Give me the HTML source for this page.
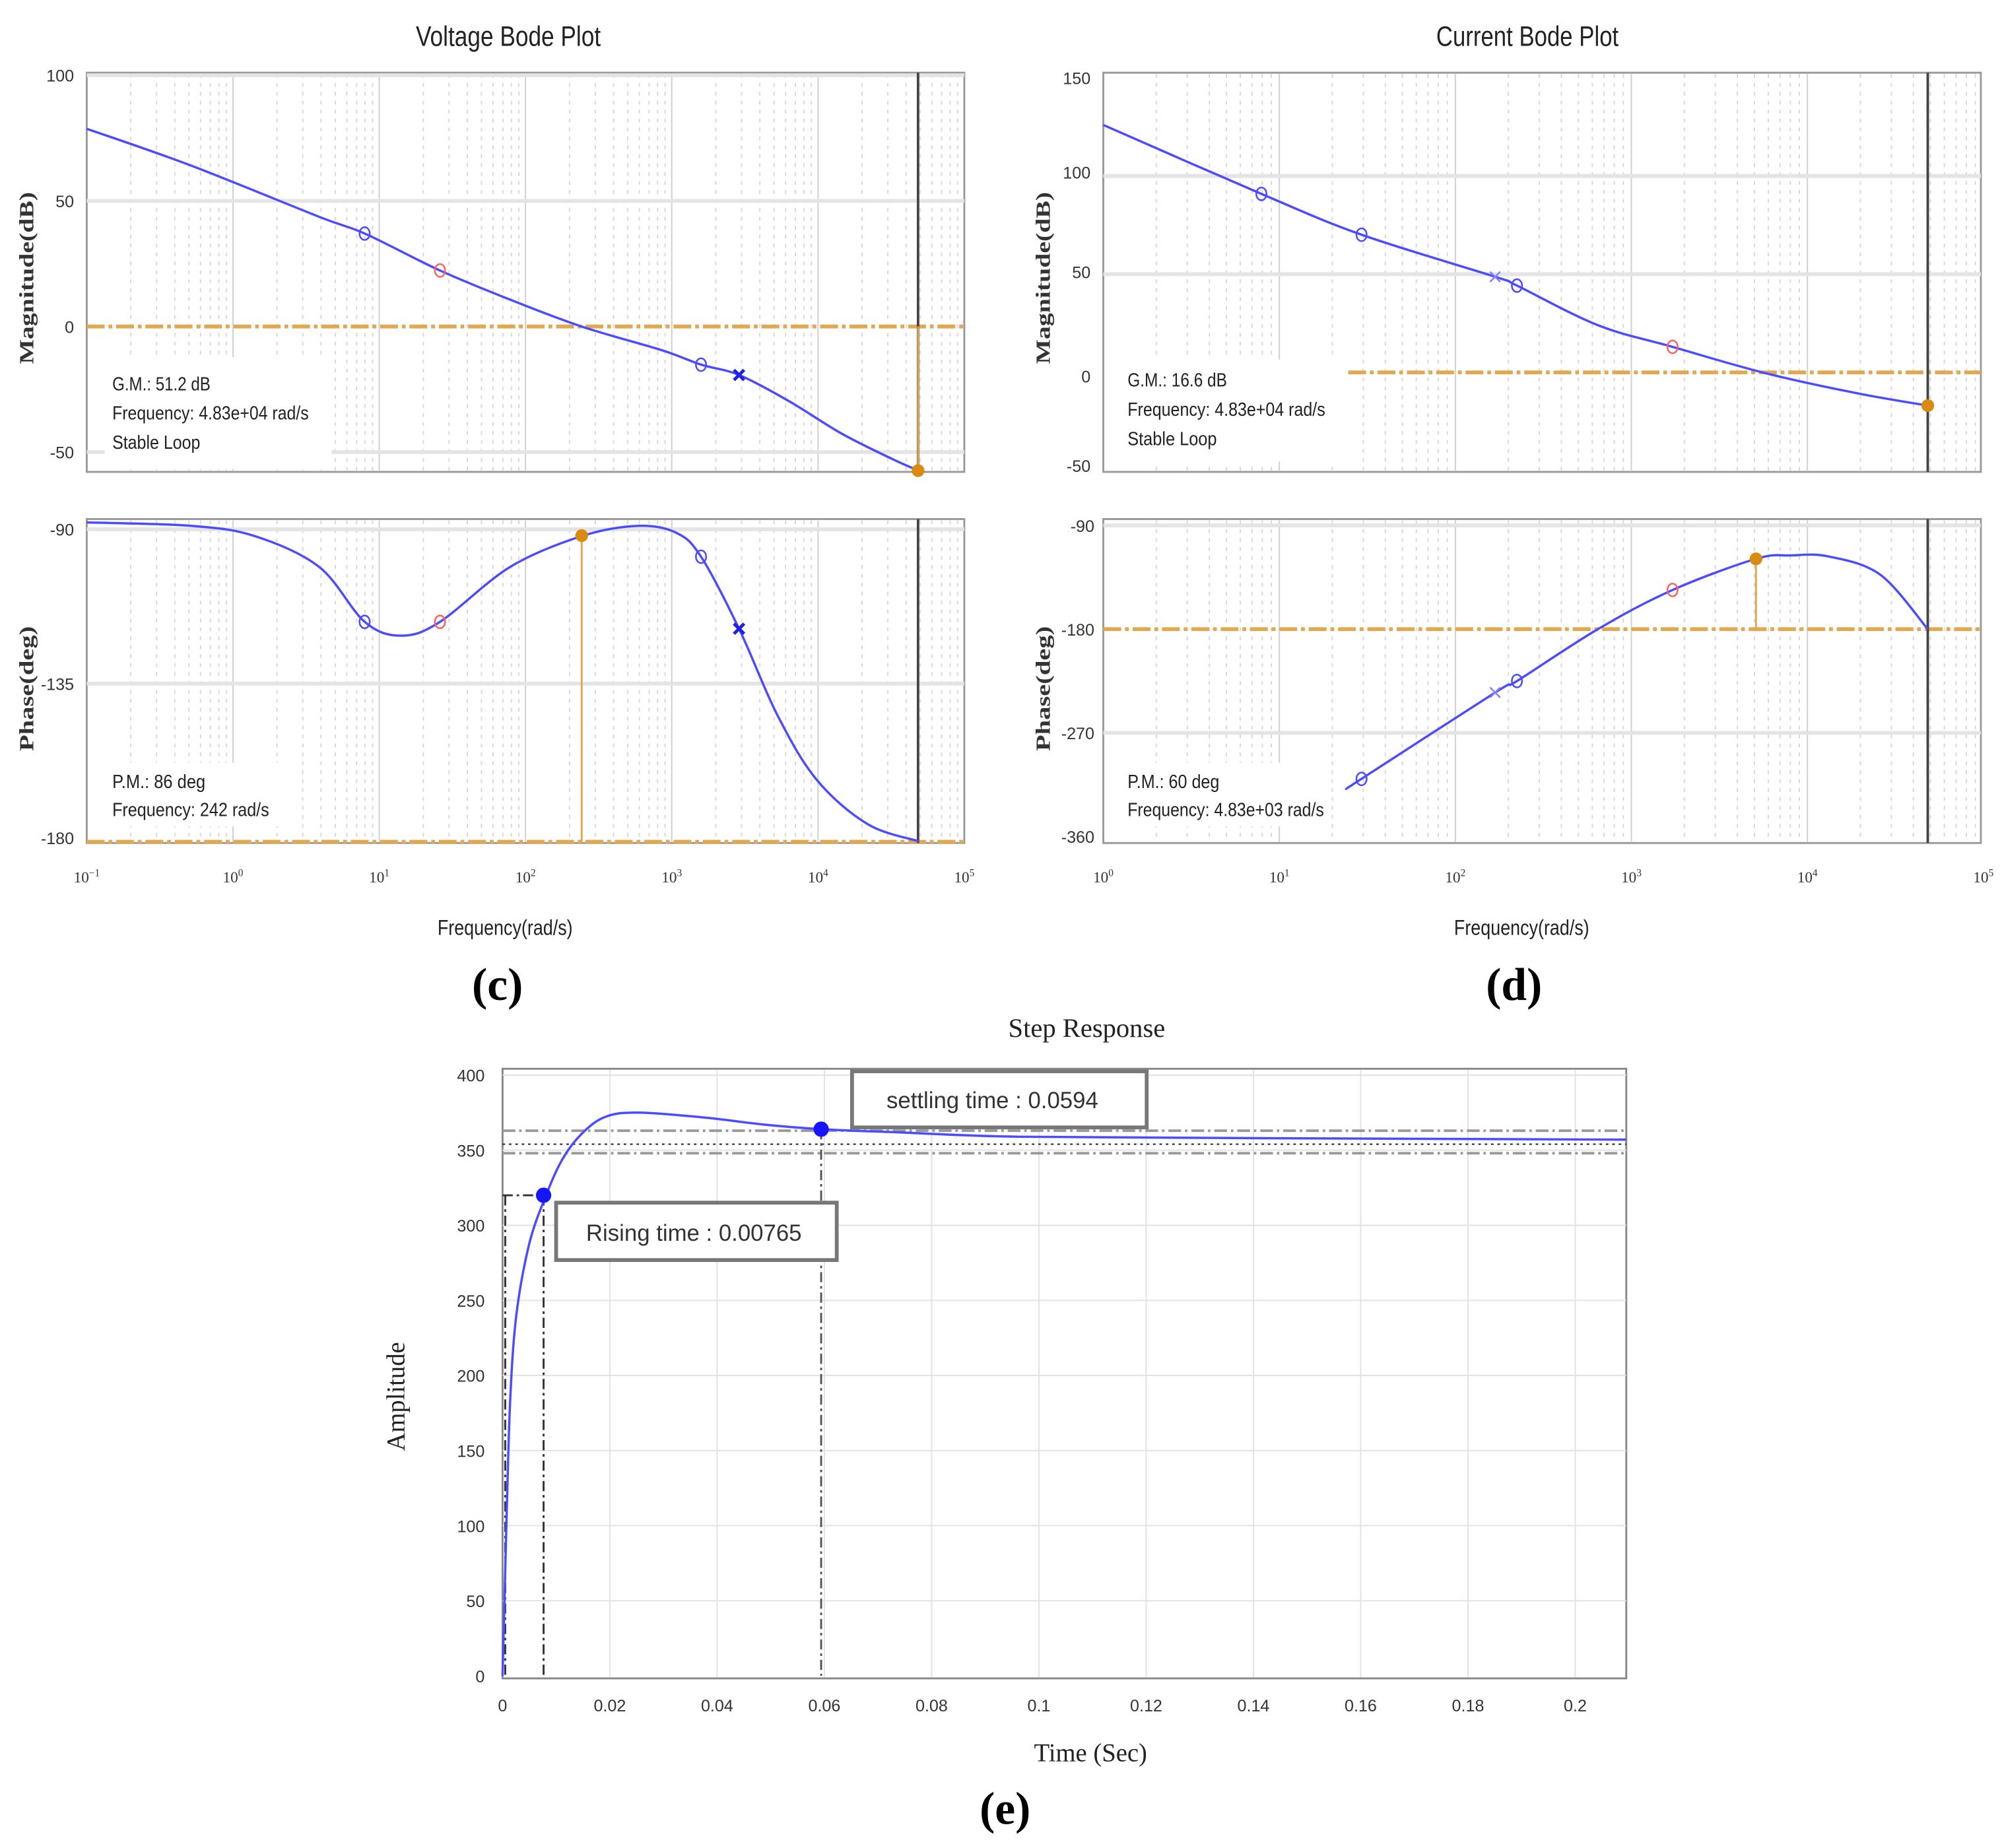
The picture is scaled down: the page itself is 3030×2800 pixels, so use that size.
<!DOCTYPE html>
<html><head><meta charset="utf-8">
<style>
html,body{margin:0;padding:0;background:#fff;}
svg{display:block;}
.nar{font-family:"Liberation Sans Narrow","Liberation Sans",sans-serif;}
.ser{font-family:"Liberation Serif",serif;}
.san{font-family:"Liberation Sans",sans-serif;}
</style></head>
<body>
<svg id="fig" width="3030" height="2800" viewBox="0 0 1568 1449" xmlns="http://www.w3.org/2000/svg"></svg>
<script>
// ---- Voltage Bode data (log10 freq, value) ----
const vMagLogF = [-1,-0.285,0.587,0.90,1.415,1.894,2.383,2.94,3.2,3.46,3.81,4.16,4.51,4.69];
const vMagDb   = [78.7,64,43.7,37,22.3,10.7,0,-9.6,-15.2,-19.3,-30,-42.6,-52.8,-57.4];
const vPhLogF  = [-1,-0.285,0.15,0.59,0.90,1.15,1.415,1.894,2.383,2.77,3.03,3.2,3.46,3.72,3.99,4.34,4.69];
const vPhDeg   = [-88,-89,-92,-101,-117,-121,-117,-101,-92,-89,-91,-98,-119,-144,-163,-176,-181];
// ---- Current Bode data ----
const cMagLogF = [0,0.898,1.467,2.226,2.350,2.810,3.234,3.745,4.270,4.684];
const cMagDb   = [126,90.9,70.1,48.7,44.2,24,13,0,-10.4,-16.9];
const cPhLogF  = [1.387,1.467,2.226,2.350,2.810,3.234,3.708,3.905,4.124,4.416,4.684];
const cPhDeg   = [-318,-310,-235,-225,-180,-146,-119,-116,-117,-133,-180];
// ---- Step response ----
const stepT = [0,0.0007,0.0014,0.0026,0.005,0.0081,0.011,0.0145,0.019,0.025,0.037,0.049,0.0594,0.073,0.0965,0.144,0.2095];
const stepY = [0,97,182,241,288,320,343,360,372,375,372,367,364,362,359,358,357];
const stepXTicks = [0,0.02,0.04,0.06,0.08,0.1,0.12,0.14,0.16,0.18,0.2];
const stepYTicks = [0,50,100,150,200,250,300,350,400];

const NS="http://www.w3.org/2000/svg";
const svg=document.getElementById('fig');
function mk(tag,attrs,parent){const e=document.createElementNS(NS,tag);for(const k in attrs)e.setAttribute(k,attrs[k]);(parent||svg).appendChild(e);return e;}
function txt(s,x,y,attrs,parent){const t=mk('text',Object.assign({x:x,y:y},attrs),parent);t.textContent=s;return t;}
function ntxt(s,x,y,len,size,parent,extra){return txt(s,x,y,Object.assign({class:'nar','font-size':size,fill:'#222',textLength:len,lengthAdjust:'spacingAndGlyphs'},extra||{}),parent);}
function smooth(xs,ys,fx,fy){const P=xs.map((v,i)=>[fx(v),fy(ys[i])]);let d='M'+P[0][0]+','+P[0][1];for(let i=0;i<P.length-1;i++){const p0=P[i-1]||P[i],p1=P[i],p2=P[i+1],p3=P[i+2]||p2;const c1=[p1[0]+(p2[0]-p0[0])/6,p1[1]+(p2[1]-p0[1])/6],c2=[p2[0]-(p3[0]-p1[0])/6,p2[1]-(p3[1]-p1[1])/6];d+=` C${c1[0].toFixed(1)},${c1[1].toFixed(1)} ${c2[0].toFixed(1)},${c2[1].toFixed(1)} ${p2[0].toFixed(1)},${p2[1].toFixed(1)}`;}return d;}

function logGrid(g,x0,perDec,d0,d1,yTop,yBot){
  for(let d=d0;d<d1;d++){for(let m=2;m<=9;m++){const x=x0+(d-d0+Math.log10(m))*perDec;mk('line',{x1:x,y1:yTop,x2:x,y2:yBot,stroke:'#d8d8d8','stroke-dasharray':'3,4','stroke-width':1},g);}
    const x=x0+(d-d0)*perDec; if(d>d0) mk('line',{x1:x,y1:yTop,x2:x,y2:yBot,stroke:'#cfcfcf','stroke-width':1},g);}
}
function circ(g,x,y,c){mk('ellipse',{cx:x,cy:y,rx:4,ry:5,fill:'none',stroke:c,'stroke-width':1.3},g);}
function xm(g,x,y,c,w){mk('path',{d:`M${x-4},${y-4}L${x+4},${y+4}M${x+4},${y-4}L${x-4},${y+4}`,stroke:c,'stroke-width':w||2.5},g);}

const ORG='#e0a850', BLUE='#4b4bff';

// ===================== VOLTAGE BODE =====================
(function(){
  const g=mk('g',{});
  const X0=68,X1=756,per=(X1-X0)/6; const fx=l=>X0+(l+1)*per;
  ntxt('Voltage Bode Plot',326,36,145,22,g,{});
  const mY=db=>256-db*98.5/50;
  const gm=mk('g',{},g);
  mk('rect',{x:X0,y:57,width:X1-X0,height:313,fill:'#fff',stroke:'#999','stroke-width':1.5},gm);
  logGrid(gm,X0,per,-1,5,58,369);
  [100,50,-50].forEach(v=>mk('line',{x1:X0,y1:mY(v),x2:X1,y2:mY(v),stroke:'#e4e4e4','stroke-width':3},gm));
  mk('rect',{x:82,y:280,width:178,height:88,fill:'#fff'},gm);
  mk('line',{x1:X0,y1:256,x2:X1,y2:256,stroke:ORG,'stroke-width':3,'stroke-dasharray':'14,3,3,3'},gm);
  mk('line',{x1:fx(4.684),y1:57,x2:fx(4.684),y2:370,stroke:'#444','stroke-width':2},gm);
  mk('line',{x1:fx(4.684),y1:256,x2:fx(4.684),y2:369,stroke:ORG,'stroke-width':1.5},gm);
  [[100,'100'],[50,'50'],[0,'0'],[-50,'-50']].forEach(([v,s])=>txt(s,58,mY(v)+5,{class:'nar','font-size':13,'text-anchor':'end',fill:'#333'},gm));
  txt('Magnitude(dB)',0,0,{class:'ser','font-size':16,'font-weight':'bold','text-anchor':'middle',transform:'translate(26,218) rotate(-90)',fill:'#333',textLength:135,lengthAdjust:'spacingAndGlyphs',},gm);
  const l=mk('path',{d:smooth(vMagLogF,vMagDb,fx,mY),fill:'none',stroke:BLUE,'stroke-width':1.8},gm);
  
  circ(gm,fx(vMagLogF[3]),mY(vMagDb[3]),BLUE);circ(gm,fx(vMagLogF[4]),mY(vMagDb[4]),'#ff6060');circ(gm,fx(vMagLogF[8]),mY(vMagDb[8]),BLUE);xm(gm,fx(vMagLogF[9]),mY(vMagDb[9]),'#2020e0');
  mk('circle',{cx:fx(4.684),cy:369,r:5,fill:'#d98a10'},gm);
  [['G.M.: 51.2 dB',77],['Frequency: 4.83e+04 rad/s',154],['Stable Loop',69]].forEach(([s,w],i)=>ntxt(s,88,306+i*23,w,15,gm));
  const pY=d=>415+(-90-d)*242/90;
  const gp=mk('g',{},g);
  mk('rect',{x:X0,y:407,width:X1-X0,height:254,fill:'#fff',stroke:'#999','stroke-width':1.5},gp);
  logGrid(gp,X0,per,-1,5,408,660);
  [-90,-135].forEach(v=>mk('line',{x1:X0,y1:pY(v),x2:X1,y2:pY(v),stroke:'#e4e4e4','stroke-width':3},gp));
  mk('rect',{x:82,y:598,width:150,height:50,fill:'#fff'},gp);
  mk('line',{x1:X0,y1:660,x2:X1,y2:660,stroke:ORG,'stroke-width':3,'stroke-dasharray':'14,3,3,3'},gp);
  mk('line',{x1:fx(4.684),y1:407,x2:fx(4.684),y2:661,stroke:'#444','stroke-width':2},gp);
  mk('line',{x1:fx(2.384),y1:420,x2:fx(2.384),y2:660,stroke:ORG,'stroke-width':1.5},gp);
  [[-90,'-90'],[-135,'-135'],[-180,'-180']].forEach(([v,s])=>txt(s,58,pY(v)+5,{class:'nar','font-size':13,'text-anchor':'end',fill:'#333'},gp));
  txt('Phase(deg)',0,0,{class:'ser','font-size':16,'font-weight':'bold','text-anchor':'middle',transform:'translate(26,540) rotate(-90)',fill:'#333',textLength:98,lengthAdjust:'spacingAndGlyphs'},gp);
  const pl=mk('path',{d:smooth(vPhLogF,vPhDeg,fx,pY),fill:'none',stroke:BLUE,'stroke-width':1.8},gp);
  
  circ(gp,fx(vPhLogF[4]),pY(vPhDeg[4]),BLUE);circ(gp,fx(vPhLogF[6]),pY(vPhDeg[6]),'#ff6060');circ(gp,fx(vPhLogF[11]),pY(vPhDeg[11]),BLUE);xm(gp,fx(vPhLogF[12]),pY(vPhDeg[12]),'#2020e0');
  mk('circle',{cx:fx(2.384),cy:420,r:5,fill:'#d98a10'},gp);
  [['P.M.: 86 deg',73],['Frequency: 242 rad/s',123]].forEach(([s,w],i)=>ntxt(s,88,618+i*22,w,15,gp));
  for(let d=-1;d<=5;d++){const t=txt('10',fx(d),692,{class:'ser','font-size':12,'text-anchor':'middle',fill:'#333'},gp);const ts=mk('tspan',{dy:-5,'font-size':8},t);ts.textContent=(d<0?'−':'')+Math.abs(d);}
  ntxt('Frequency(rad/s)',343,733,106,17,g,{});
  txt('(c)',390,784,{class:'ser','font-size':36,'font-weight':'bold','text-anchor':'middle',fill:'#000',},g);
})();

// ===================== CURRENT BODE =====================
(function(){
  const g=mk('g',{});
  const X0=865,X1=1553,per=138; const fx=l=>X0+l*per;
  ntxt('Current Bode Plot',1126,36,143,22,g,{});
  const mY=db=>292-db*77/50;
  const gm=mk('g',{},g);
  mk('rect',{x:X0,y:57,width:X1-X0,height:313,fill:'#fff',stroke:'#999','stroke-width':1.5},gm);
  logGrid(gm,X0,per,0,5,58,369);
  [100,50].forEach(v=>mk('line',{x1:X0,y1:mY(v),x2:X1,y2:mY(v),stroke:'#e4e4e4','stroke-width':3},gm));
  mk('rect',{x:878,y:282,width:175,height:80,fill:'#fff'},gm);
  mk('line',{x1:1057,y1:292,x2:X1,y2:292,stroke:ORG,'stroke-width':3,'stroke-dasharray':'14,3,3,3'},gm);
  mk('line',{x1:fx(4.684),y1:57,x2:fx(4.684),y2:370,stroke:'#444','stroke-width':2},gm);
  [[150,'150',61],[100,'100',135],[50,'50',213],[0,'0',295],[-50,'-50',365]].forEach(([v,s,y])=>txt(s,855,y+5,{class:'nar','font-size':13,'text-anchor':'end',fill:'#333'},gm));
  txt('Magnitude(dB)',0,0,{class:'ser','font-size':16,'font-weight':'bold','text-anchor':'middle',transform:'translate(823,218) rotate(-90)',fill:'#333',textLength:135,lengthAdjust:'spacingAndGlyphs'},gm);
  const l=mk('path',{d:smooth(cMagLogF,cMagDb,fx,mY),fill:'none',stroke:BLUE,'stroke-width':1.8},gm);
  
  circ(gm,fx(cMagLogF[1]),mY(cMagDb[1]),BLUE);circ(gm,fx(cMagLogF[2]),mY(cMagDb[2]),BLUE);xm(gm,fx(cMagLogF[3]),mY(cMagDb[3]),'#8080ff',1.3);circ(gm,fx(cMagLogF[4]),mY(cMagDb[4]),BLUE);circ(gm,fx(cMagLogF[6]),mY(cMagDb[6]),'#ff6060');
  mk('circle',{cx:fx(cMagLogF[9]),cy:mY(cMagDb[9]),r:5,fill:'#d98a10'},gm);
  [['G.M.: 16.6 dB',78],['Frequency: 4.83e+04 rad/s',155],['Stable Loop',70]].forEach(([s,w],i)=>ntxt(s,884,303+i*23,w,15,gm));
  const pY=d=>412+(-90-d)*81.3/90;
  const gp=mk('g',{},g);
  mk('rect',{x:X0,y:407,width:X1-X0,height:254,fill:'#fff',stroke:'#999','stroke-width':1.5},gp);
  logGrid(gp,X0,per,0,5,408,660);
  [-90,-270].forEach(v=>mk('line',{x1:X0,y1:pY(v),x2:X1,y2:pY(v),stroke:'#e4e4e4','stroke-width':3},gp));
  mk('rect',{x:878,y:598,width:165,height:50,fill:'#fff'},gp);
  mk('line',{x1:X0,y1:pY(-180),x2:X1,y2:pY(-180),stroke:ORG,'stroke-width':3,'stroke-dasharray':'14,3,3,3'},gp);
  mk('line',{x1:fx(4.684),y1:407,x2:fx(4.684),y2:661,stroke:'#444','stroke-width':2},gp);
  mk('line',{x1:fx(3.708),y1:pY(-119),x2:fx(3.708),y2:pY(-180),stroke:ORG,'stroke-width':1.5},gp);
  [[-90,'-90'],[-180,'-180'],[-270,'-270'],[-360,'-360']].forEach(([v,s])=>txt(s,858,pY(v)+5,{class:'nar','font-size':13,'text-anchor':'end',fill:'#333'},gp));
  txt('Phase(deg)',0,0,{class:'ser','font-size':16,'font-weight':'bold','text-anchor':'middle',transform:'translate(823,540) rotate(-90)',fill:'#333',textLength:98,lengthAdjust:'spacingAndGlyphs'},gp);
  const pl=mk('path',{d:smooth(cPhLogF,cPhDeg,fx,pY),fill:'none',stroke:BLUE,'stroke-width':1.8},gp);
  
  circ(gp,fx(cPhLogF[1]),pY(cPhDeg[1]),BLUE);xm(gp,fx(cPhLogF[2]),pY(cPhDeg[2]),'#8080ff',1.3);circ(gp,fx(cPhLogF[3]),pY(cPhDeg[3]),BLUE);circ(gp,fx(cPhLogF[5]),pY(cPhDeg[5]),'#ff6060');
  mk('circle',{cx:fx(cPhLogF[6]),cy:pY(cPhDeg[6]),r:5,fill:'#d98a10'},gp);
  [['P.M.: 60 deg',72],['Frequency: 4.83e+03 rad/s',154]].forEach(([s,w],i)=>ntxt(s,884,618+i*22,w,15,gp));
  for(let d=0;d<=5;d++){const t=txt('10',fx(d),692,{class:'ser','font-size':12,'text-anchor':'middle',fill:'#333'},gp);const ts=mk('tspan',{dy:-5,'font-size':8},t);ts.textContent=d;}
  ntxt('Frequency(rad/s)',1140,733,106,17,g,{});
  txt('(d)',1187,784,{class:'ser','font-size':36,'font-weight':'bold','text-anchor':'middle',fill:'#000',},g);
})();

// ===================== STEP RESPONSE =====================
(function(){
  const g=mk('g',{});
  const X0=394,X1=1275,Y0=1314;
  const fx=t=>X0+t*4205, fy=v=>Y0-v*1.1775;
  txt('Step Response',852,813,{class:'ser','font-size':21,'text-anchor':'middle',fill:'#222',},g);
  mk('rect',{x:X0,y:838,width:X1-X0,height:478,fill:'#fff',stroke:'#888','stroke-width':1.5},g);
  stepXTicks.forEach(t=>{if(t>0)mk('line',{x1:fx(t),y1:839,x2:fx(t),y2:1315,stroke:'#e2e2e2','stroke-width':1},g);
    txt(String(t),fx(t),1342,{class:'san','font-size':13,'text-anchor':'middle',fill:'#333'},g);});
  stepYTicks.forEach(v=>{if(v>0)mk('line',{x1:X0,y1:fy(v),x2:X1,y2:fy(v),stroke:'#e2e2e2','stroke-width':1},g);
    txt(String(v),380,fy(v)+5,{class:'san','font-size':13,'text-anchor':'end',fill:'#333'},g);});
  mk('line',{x1:X0,y1:fy(363),x2:X1,y2:fy(363),stroke:'#999','stroke-width':2,'stroke-dasharray':'10,3,2,3'},g);
  mk('line',{x1:X0,y1:fy(348),x2:X1,y2:fy(348),stroke:'#999','stroke-width':2,'stroke-dasharray':'10,3,2,3'},g);
  mk('line',{x1:X0,y1:fy(354),x2:X1,y2:fy(354),stroke:'#333','stroke-width':1.2,'stroke-dasharray':'2,3'},g);
  const rt=0.00765, ry=320, st=0.0594, sy=364;
  mk('line',{x1:X0,y1:fy(ry),x2:fx(rt),y2:fy(ry),stroke:'#333','stroke-width':1.5,'stroke-dasharray':'8,3,2,3'},g);
  mk('line',{x1:fx(rt),y1:fy(ry),x2:fx(rt),y2:Y0,stroke:'#333','stroke-width':1.5,'stroke-dasharray':'8,3,2,3'},g);
  mk('line',{x1:fx(0.0005),y1:fy(ry),x2:fx(0.0005),y2:Y0,stroke:'#333','stroke-width':1.5,'stroke-dasharray':'8,3,2,3'},g);
  mk('line',{x1:fx(st),y1:fy(sy),x2:fx(st),y2:Y0,stroke:'#555','stroke-width':1.5,'stroke-dasharray':'8,3,2,3'},g);
  const l=mk('path',{d:smooth(stepT,stepY,fx,fy),fill:'none',stroke:BLUE,'stroke-width':1.8},g);
  
  mk('circle',{cx:fx(rt),cy:fy(ry),r:6,fill:'#1515ff'},g);
  mk('circle',{cx:fx(st),cy:fy(sy),r:6,fill:'#1515ff'},g);
  const b1=mk('g',{},g);
  mk('rect',{x:668,y:840,width:231,height:44,fill:'#fff',stroke:'#777','stroke-width':3},b1);
  txt('settling time : 0.0594',778,869,{class:'san','font-size':18,'text-anchor':'middle',fill:'#333'},b1);
  const b2=mk('g',{},g);
  mk('rect',{x:436,y:943,width:220,height:45,fill:'#fff',stroke:'#777','stroke-width':3},b2);
  txt('Rising time : 0.00765',544,973,{class:'san','font-size':18,'text-anchor':'middle',fill:'#333'},b2);
  txt('Amplitude',0,0,{class:'ser','font-size':20,'text-anchor':'middle',transform:'translate(317,1095) rotate(-90)',fill:'#222',},g);
  txt('Time (Sec)',855,1381,{class:'ser','font-size':20,'text-anchor':'middle',fill:'#222',},g);
  txt('(e)',788,1430,{class:'ser','font-size':36,'font-weight':'bold','text-anchor':'middle',fill:'#000',},g);
})();
</script>
</body></html>
